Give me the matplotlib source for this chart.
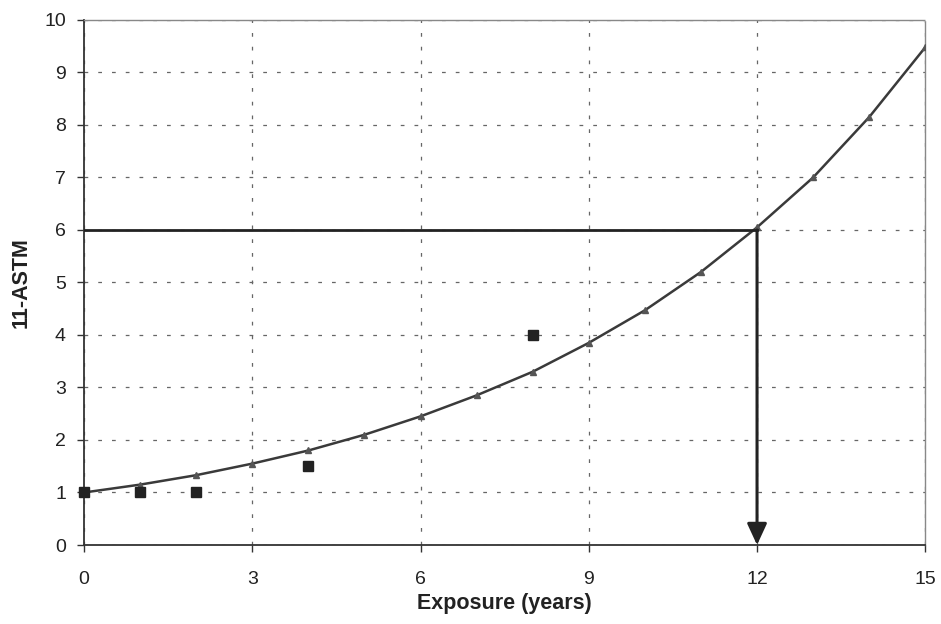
import matplotlib
matplotlib.use("Agg")
import matplotlib.pyplot as plt

plt.rcParams['font.family'] = ['Liberation Sans', 'DejaVu Sans']

years = [0, 1, 2, 3, 4, 5, 6, 7, 8, 9, 10, 11, 12, 13, 14, 15]
model = [1.0, 1.15, 1.33, 1.55, 1.8, 2.1, 2.45, 2.85, 3.3, 3.85, 4.47, 5.2, 6.05, 7.0, 8.15, 9.48]
obs_x = [0, 1, 2, 4, 8]
obs_y = [1.0, 1.0, 1.0, 1.5, 4.0]
target_x = 12
target_y = 6
xticks = [0, 3, 6, 9, 12, 15]
yticks = list(range(0, 11))

fig = plt.figure(figsize=(9.41, 6.24), dpi=100)
ax = fig.add_axes([0.0893, 0.1266, 0.894, 0.8414])

ax.set_xlim(0, 15)
ax.set_ylim(0, 10)
ax.set_xticks(xticks)
ax.set_yticks(yticks)
ax.grid(True, color='#666666', linestyle=(0, (3, 8)), linewidth=0.9)
ax.set_axisbelow(True)

ax.plot(years, model, color='#3a3a3a', linewidth=1.8, marker='^', markersize=5,
        markerfacecolor='#555555', markeredgecolor='#555555', zorder=3)
ax.plot(obs_x, obs_y, linestyle='none', marker='s', markersize=7,
        color='#222222', zorder=4, clip_on=False)

ax.plot([0, target_x], [target_y, target_y], color='#222222', linewidth=2, zorder=3)
ax.annotate('', xy=(target_x, 0), xytext=(target_x, target_y),
            arrowprops=dict(arrowstyle='-|>,head_length=1.3,head_width=0.6',
                            color='#222222', lw=2.2, shrinkA=0, shrinkB=0), zorder=3)

for s in ['top', 'right']:
    ax.spines[s].set_linestyle((0, (1, 1)))
    ax.spines[s].set_color('#888888')
    ax.spines[s].set_linewidth(1)
for s in ['left', 'bottom']:
    ax.spines[s].set_color('#333333')
    ax.spines[s].set_linewidth(1.3)

ax.tick_params(axis='both', direction='out', length=5, width=1, colors='#333333',
               labelsize=14, labelcolor='#222222')
ax.tick_params(axis='x', pad=14)
ax.tick_params(axis='y', pad=8)

ax.set_xlabel('Exposure (years)', fontsize=15.5, fontweight='bold', color='#222222', labelpad=3)
ax.set_ylabel('11-ASTM', fontsize=15.5, fontweight='bold', color='#222222', labelpad=9)

fig.savefig('out.png', dpi=100)
